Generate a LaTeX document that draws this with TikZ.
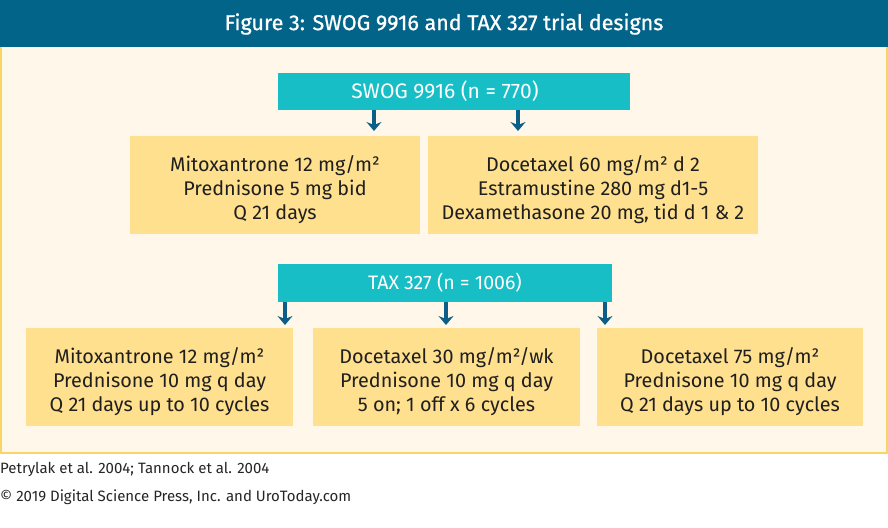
\documentclass[tikz,border=0pt]{standalone}
\usepackage{fontspec}
\setmainfont{Fira Sans}
\usetikzlibrary{arrows.meta}
\definecolor{titlebar}{HTML}{03648A}
\definecolor{panel}{HTML}{FFF8EA}
\definecolor{panelborder}{HTML}{F8D565}
\definecolor{boxfill}{HTML}{FFE08E}
\definecolor{tealbox}{HTML}{17BEC6}
\definecolor{arrowcol}{HTML}{0B5E86}
\newcommand{\toppad}{\rule{0pt}{24.5pt}}
\tikzset{
  treat/.style={fill=boxfill, draw=none, align=center, font=\fontsize{19.8}{24}\selectfont, text=black!88, inner sep=0pt},
  trial/.style={fill=tealbox, draw=none, align=center, text=white, inner sep=0pt},
  darr/.style={draw=arrowcol, line width=3.2pt, -{Stealth[length=9pt,width=15pt,inset=3pt]}},
}
\begin{document}
\begin{tikzpicture}[x=1pt,y=-1pt]
\useasboundingbox (0,0) rectangle (888,527);
\fill[white] (0,0) rectangle (888,527);
% panel
\fill[panel] (1,47) rectangle (887,453);
\draw[panelborder, line width=2.5pt] (1.2,47) -- (1.2,452.8) -- (886.8,452.8) -- (886.8,47);
% title bar
\fill[titlebar] (0,0) rectangle (888,47);
\node[font=\fontsize{21.5}{24}\selectfont\addfontfeature{FakeBold=0.8}, text=white] (title) at (444,24) {Figure 3: SWOG 9916 and TAX 327 trial designs};
% SWOG
\node[trial, font=\fontsize{21}{24}\selectfont, minimum width=352pt, minimum height=37pt] (swog) at (454,91.5) {\hspace*{-18pt}SWOG 9916 (n = 770)};
\node[treat, minimum width=290pt, minimum height=98pt] (s1) at (275,185) {\toppad Mitoxantrone 12 mg/m²\\Prednisone 5 mg bid\\Q 21 days};
\node[treat, minimum width=330pt, minimum height=98pt] (s2) at (593,185) {\toppad Docetaxel 60 mg/m² d 2\\Estramustine 280 mg d1-5\\Dexamethasone 20 mg, tid d 1 \& 2};
\coordinate (sa1) at (374,110);
\coordinate (sa2) at (518,110);
\draw[darr] (sa1) -- (374,131);
\draw[darr] (sa2) -- (518,131);
% TAX
\node[trial, font=\fontsize{19.5}{24}\selectfont, minimum width=334pt, minimum height=38pt] (tax) at (445,283) {TAX 327 (n = 1006)};
\node[treat, minimum width=267pt, minimum height=98pt] (t1) at (159.5,377) {\toppad Mitoxantrone 12 mg/m²\\Prednisone 10 mg q day\\Q 21 days up to 10 cycles};
\node[treat, minimum width=267pt, minimum height=98pt] (t2) at (446.5,377) {\toppad Docetaxel 30 mg/m²/wk\\Prednisone 10 mg q day\\5 on; 1 off x 6 cycles};
\node[treat, minimum width=266pt, minimum height=98pt] (t3) at (730,377) {\toppad Docetaxel 75 mg/m²\\Prednisone 10 mg q day\\Q 21 days up to 10 cycles};
\draw[darr] (tax.south west -| 285,0) -- (285,325);
\draw[darr] (tax.south) ++(1,0) -- (446,325);
\draw[darr] (tax.south east -| 605,0) -- (605,325);
% footer
\node[anchor=west, font=\fontsize{15}{18}\selectfont, text=black!85, inner sep=0pt] (ref) at (0,469) {Petrylak et al. 2004; Tannock et al. 2004};
\node[anchor=west, font=\fontsize{15}{18}\selectfont, text=black!85, inner sep=0pt] (copy) at (0,497) {© 2019 Digital Science Press, Inc. and UroToday.com};
\end{tikzpicture}
\end{document}
